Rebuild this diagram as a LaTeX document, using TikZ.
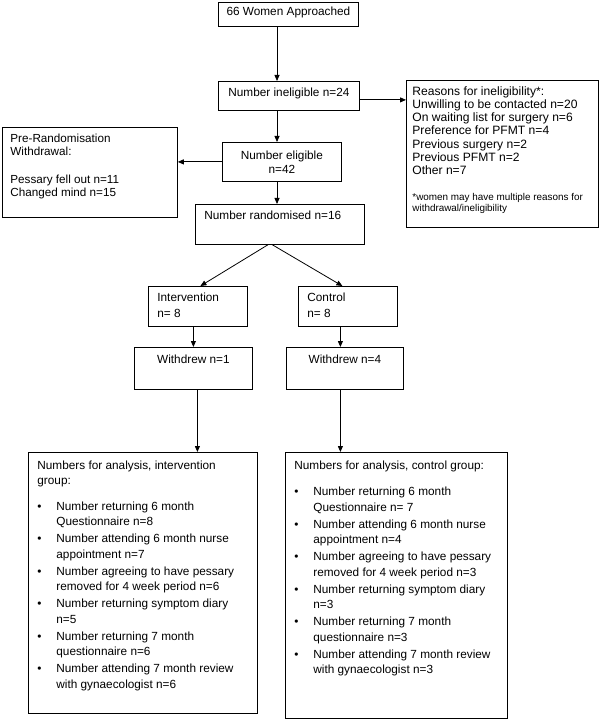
\documentclass[tikz,border=0pt]{standalone}
\usepackage{fontspec}
\setmainfont{Liberation Sans}
\usetikzlibrary{arrows.meta}

\newcommand{\boxtext}[4]{\parbox[c][#2][t]{#1}{\vspace*{#3}#4\par}}
\newcommand{\bul}{\makebox[19pt][l]{\textbullet}}
\newcommand{\wrapin}{\hspace*{19pt}}

\begin{document}
\begin{tikzpicture}[x=1pt, y=-1pt,
  box/.style={draw, line width=0.8pt, inner sep=0pt, anchor=north west, font=\fontsize{11.8}{13}\selectfont},
  arr/.style={-{Triangle[length=6pt,width=5pt]}, line width=0.8pt}, ]
\useasboundingbox (0,0) rectangle (600,719);
\coordinate (spine) at (277,0);

% Screening
\node[box] (approached) at (218,2) {\boxtext{140pt}{24pt}{5pt}{\centering 66 Women Approached}};
\node[box] (inelig) at (218,81) {\boxtext{141pt}{29pt}{6.5pt}{\centering Number ineligible n=24}};
\node[box] (reasons) at (406,80) {\boxtext{192pt}{147pt}{6.5pt}{\fontsize{12.1}{13.1}\selectfont\raggedright\leftskip=6pt
  Reasons for ineligibility*:\\
  Unwilling to be contacted n=20\\
  On waiting list for surgery n=6\\
  Preference for PFMT n=4\\
  Previous surgery n=2\\
  Previous PFMT n=2\\
  Other n=7\par\vspace{15pt}
  {\fontsize{9.9}{11}\selectfont *women may have multiple reasons for\\
  withdrawal/ineligibility\par}}};

\node[box] (elig) at (222,142) {\boxtext{119pt}{39pt}{8.5pt}{\fontsize{11.8}{14}\selectfont\centering Number eligible\\ n=42}};
\node[box] (prerand) at (2,127) {\boxtext{175pt}{90pt}{6.5pt}{\fontsize{11.7}{13.2}\selectfont\raggedright\leftskip=8pt
  Pre-Randomisation\\
  Withdrawal:\\[15pt]
  Pessary fell out n=11\\
  Changed mind n=15}};

\node[box] (random) at (195,204) {\boxtext{169pt}{40pt}{7pt}{\raggedright\leftskip=9pt Number randomised n=16}};

% Groups
\node[box] (interv) at (148,286) {\boxtext{99pt}{40pt}{6.5pt}{\fontsize{11.8}{16}\selectfont\raggedright\leftskip=9pt Intervention\\ n= 8}};
\node[box] (control) at (298,286) {\boxtext{99pt}{40pt}{6.5pt}{\fontsize{11.8}{16}\selectfont\raggedright\leftskip=9pt Control\\ n= 8}};

\node[box] (wd1) at (134,347) {\boxtext{118pt}{42pt}{8pt}{\centering Withdrew n=1}};
\node[box] (wd4) at (286,347) {\boxtext{117pt}{42pt}{8pt}{\centering Withdrew n=4}};

% Analysis
\node[box] (ana1) at (28,452) {\boxtext{229pt}{261pt}{8.5pt}{\fontsize{11.8}{15.5}\selectfont\raggedright\leftskip=9pt
  Numbers for analysis, intervention\\
  group:\\[10pt]
  \bul Number returning 6 month\\ \wrapin Questionnaire n=8\\[1.5pt]
  \bul Number attending 6 month nurse\\ \wrapin appointment n=7\\[1.5pt]
  \bul Number agreeing to have pessary\\ \wrapin removed for 4 week period n=6\\[1.5pt]
  \bul Number returning symptom diary\\ \wrapin n=5\\[1.5pt]
  \bul Number returning 7 month\\ \wrapin questionnaire n=6\\[1.5pt]
  \bul Number attending 7 month review\\ \wrapin with gynaecologist n=6}};
\node[box] (ana2) at (285,452) {\boxtext{222pt}{266pt}{8.5pt}{\fontsize{11.8}{15.5}\selectfont\raggedright\leftskip=9pt
  Numbers for analysis, control group:\\[11pt]
  \bul Number returning 6 month\\ \wrapin Questionnaire n= 7\\[1.5pt]
  \bul Number attending 6 month nurse\\ \wrapin appointment n=4\\[1.5pt]
  \bul Number agreeing to have pessary\\ \wrapin removed for 4 week period n=3\\[1.5pt]
  \bul Number returning symptom diary\\ \wrapin n=3\\[1.5pt]
  \bul Number returning 7 month\\ \wrapin questionnaire n=3\\[1.5pt]
  \bul Number attending 7 month review\\ \wrapin with gynaecologist n=3}};

% Connectors
\draw[arr] (approached.south -| spine) -- (inelig.north -| spine);
\draw[arr] ([yshift=-4pt]inelig.east) -- ([yshift=-4pt]inelig.east -| reasons.west);
\draw[arr] (inelig.south -| spine) -- (elig.north -| spine);
\draw[arr] (elig.west) -- (elig.west -| prerand.east);
\draw[arr] (elig.south -| spine) -- (random.north -| spine);

\draw[arr] ([xshift=-12pt]random.south) -- ([xshift=2.5pt]interv.north);
\draw[arr] ([xshift=-7.5pt]random.south) -- ([xshift=-5.5pt]control.north);

\draw[arr] (wd1.north |- interv.south) -- (wd1.north);
\draw[arr] ([xshift=-4.5pt]wd4.north |- control.south) -- ([xshift=-4.5pt]wd4.north);

\draw[arr] ([xshift=4pt]wd1.south) -- ([xshift=4pt]wd1.south |- ana1.north);
\draw[arr] ([xshift=-4.5pt]wd4.south) -- ([xshift=-4.5pt]wd4.south |- ana2.north);

\end{tikzpicture}
\end{document}
